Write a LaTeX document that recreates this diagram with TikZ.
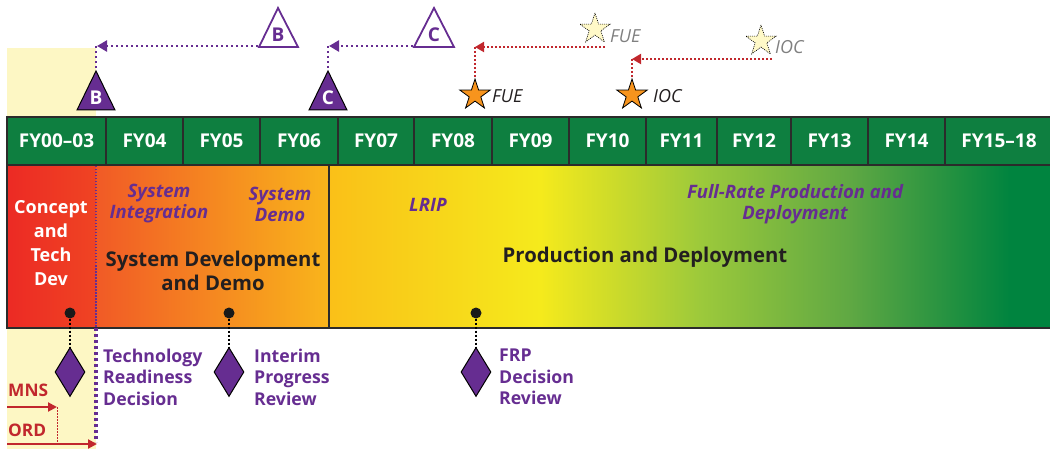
\documentclass[tikz,border=0pt]{standalone}
\usepackage{fontspec}
\setmainfont{Open Sans}
\usetikzlibrary{shapes.geometric,arrows.meta}
\definecolor{fygreen}{HTML}{0E7F40}
\definecolor{dpurple}{HTML}{662D91}
\definecolor{dred}{HTML}{C1272D}
\definecolor{paleyel}{HTML}{FDF7C4}
\definecolor{bordc}{HTML}{2B2B2B}
\definecolor{txtblack}{HTML}{231F20}
\definecolor{staror}{HTML}{F7941D}
\definecolor{starpale}{HTML}{FFF9C8}
\definecolor{rA}{HTML}{EC2A24}
\definecolor{rB}{HTML}{EF4423}
\definecolor{oA}{HTML}{F15A26}
\definecolor{oB}{HTML}{F9B51B}
\definecolor{pA}{HTML}{FAC018}
\definecolor{pB}{HTML}{F5EA1C}
\definecolor{pC}{HTML}{9CC93B}
\definecolor{pD}{HTML}{5FA843}
\definecolor{pE}{HTML}{00843F}
\pgfdeclarehorizontalshading{redshade}{100bp}{color(0bp)=(rA); color(25bp)=(rA); color(75bp)=(rB); color(100bp)=(rB)}
\pgfdeclarehorizontalshading{orshade}{100bp}{color(0bp)=(oA); color(25bp)=(oA); color(75bp)=(oB); color(100bp)=(oB)}
\pgfdeclarehorizontalshading{prodshade}{100bp}{color(0bp)=(pA); color(25bp)=(pA); color(39.6bp)=(pB); color(50.7bp)=(pC); color(61bp)=(pD); color(72bp)=(pE); color(100bp)=(pE)}
\tikzset{
  fycell/.style={rectangle, draw=bordc, line width=1.5pt, fill=fygreen, text=white,
    font=\bfseries\fontsize{19}{20}\selectfont, minimum height=48pt, inner sep=0pt},
  whitelab/.style={text=white, font=\bfseries\fontsize{18}{24}\selectfont, align=center, inner sep=0pt},
  phaseital/.style={text=dpurple, font=\bfseries\itshape\fontsize{18.5}{21}\selectfont, align=center, inner sep=0pt},
  phasebig/.style={text=txtblack, font=\bfseries\fontsize{20.3}{24}\selectfont, align=center, inner sep=0pt},
  revlab/.style={text=dpurple, font=\bfseries\fontsize{17.7}{21.5}\selectfont, align=left, anchor=west, inner sep=0pt},
  redlab/.style={text=dred, font=\bfseries\fontsize{17.3}{18}\selectfont, anchor=west, inner sep=0pt},
  mslab/.style={text=txtblack, font=\itshape\fontsize{18}{18}\selectfont, anchor=west, inner sep=0pt},
  palelab/.style={text=black!50, font=\itshape\fontsize{18}{18}\selectfont, anchor=west, inner sep=0pt},
  orstar/.style={star, star points=5, star point ratio=2.618, minimum size=32pt, inner sep=0pt,
    fill=staror, draw=black, line width=0.8pt},
  palestar/.style={star, star points=5, star point ratio=2.618, minimum size=32pt, inner sep=0pt,
    fill=starpale, draw=black, line width=0.6pt, dash pattern=on 1pt off 1pt},
  revdia/.style={diamond, fill=dpurple, draw=black, line width=1pt, minimum width=30pt,
    minimum height=49pt, inner sep=0pt},
  blackdot/.style={circle, fill=black!90, inner sep=0pt, minimum size=11pt},
  dotlink/.style={black, line width=1.2pt, dash pattern=on 2pt off 2pt},
  purpdot/.style={dpurple, line width=2.5pt, dash pattern=on 2.5pt off 2.5pt},
  reddot/.style={dred, line width=2pt, dash pattern=on 2pt off 2pt},
  purptip/.style={-{Triangle[length=10pt,width=11pt]}},
  trilet/.style={font=\bfseries\fontsize{19}{20}\selectfont, inner sep=0pt},
}
\begin{document}
\begin{tikzpicture}[x=1pt,y=-1pt]
\useasboundingbox (0,0) rectangle (1050,449);
% pale background of the first period
\fill[paleyel] (7,48) rectangle (96,449);
% phase band
\shade[shading=redshade] (7,165) rectangle (96,328);
\shade[shading=orshade] (96,165) rectangle (329,328);
\shade[shading=prodshade] (329,165) rectangle (1053,328);
\draw[bordc, line width=1.5pt] (7,165) rectangle (1053,328);
\draw[bordc, line width=1.5pt] (329,165) -- (329,328);
% fiscal year cells
\foreach \l/\r/\t [count=\i] in {7/106/FY00--03, 106/183/FY04, 183/260/FY05, 260/338/FY06,
   338/414/FY07, 414/492/FY08, 492/569/FY09, 569/646/FY10, 646/717/FY11, 717/791/FY12,
   791/868/FY13, 868/945/FY14, 945/1053/FY15--18}
  \node[fycell, minimum width={\r pt-\l pt}] (fy\i) at ({(\l+\r)/2},141) {\t};
% Milestone B / C decision line
\draw[dpurple, line width=2pt, dash pattern=on 1.5pt off 1.5pt] (96,166) -- (96,328);
\draw[dpurple, line width=3.5pt, dash pattern=on 3pt off 3pt] (96,328) -- (96,442);
% phase texts
\node[whitelab] (ctd) at (51,243) {Concept\\and\\Tech\\Dev};
\node[phaseital] (si) at (159,204) {System\\Integration};
\node[phaseital] (sd) at (280,204) {System\\Demo};
\node[phasebig] (sdd) at (213,271) {System Development\\and Demo};
\node[phaseital] (lrip) at (428,205) {LRIP};
\node[phasebig] (pd) at (645,257) {Production and Deployment};
\node[phaseital] (frp) at (795,204) {Full-Rate Production and\\Deployment};
% reviews
\node[blackdot] (k1) at (70,313) {};
\node[blackdot] (k2) at (229,313) {};
\node[blackdot] (k3) at (476,313) {};
\node[revdia] (d1) at (70,372) {};
\node[revdia] (d2) at (229,372) {};
\node[revdia] (d3) at (476,372) {};
\draw[dotlink] (k1) -- (d1.north);
\draw[dotlink] (k2) -- (d2.north);
\draw[dotlink] (k3) -- (d3.north);
\node[revlab] (trd) at (103,377) {Technology\\Readiness\\Decision};
\node[revlab] (ipr) at (254,377) {Interim\\Progress\\Review};
\node[revlab] (frpd) at (499,377) {FRP\\Decision\\Review};
% MNS / ORD
\node[redlab] (mns) at (8,390) {MNS};
\node[redlab] (ord) at (8,430) {ORD};
\coordinate (mnsS) at (7,407);
\coordinate (mnsE) at (57,407);
\coordinate (mnsB) at (57,444);
\coordinate (ordS) at (7,444);
\coordinate (ordE) at (97,444);
\draw[dred, line width=2pt, -{Triangle[length=9pt,width=9pt]}] (mnsS) -- (mnsE);
\draw[dred, line width=1pt, dash pattern=on 1.5pt off 1.5pt] (mnsE) -- (mnsB);
\draw[dred, line width=2pt, -{Triangle[length=9pt,width=9pt]}] (ordS) -- (ordE);
% milestone triangles (current)
\filldraw[fill=dpurple, draw=black, line width=1pt] (77,110) -- (96,71) -- (115,110) -- cycle;
\node[trilet, text=white] (Bf) at (96,98) {B};
\filldraw[fill=dpurple, draw=black, line width=1pt] (309,110) -- (328,71) -- (347,110) -- cycle;
\node[trilet, text=white] (Cf) at (328,98) {C};
% milestone triangles (planned)
\draw[dpurple, line width=1.8pt, line join=miter] (259,47) -- (278,8) -- (298,47) -- cycle;
\node[trilet, text=dpurple] (Bo) at (278,35) {B};
\draw[dpurple, line width=1.8pt, line join=miter] (414,47) -- (434,8) -- (454,47) -- cycle;
\node[trilet, text=dpurple] (Co) at (434,35) {C};
\coordinate (BoL) at (258,46);
\coordinate (BcT) at (96,46);
\coordinate (BfT) at (96,71);
\coordinate (CoL) at (413,46);
\coordinate (CcT) at (328,46);
\coordinate (CfT) at (328,71);
\draw[purpdot, purptip] (BoL) -- ([xshift=1pt]BcT);
\draw[purpdot] (BcT) -- (BfT);
\draw[purpdot, purptip] (CoL) -- ([xshift=1pt]CcT);
\draw[purpdot] (CcT) -- (CfT);
% stars
\node[orstar] (sFUE) at (475,95) {};
\node[mslab] (lFUE) at (492,96) {FUE};
\node[orstar] (sIOC) at (632,95) {};
\node[mslab] (lIOC) at (653,96) {IOC};
\node[palestar] (pFUE) at (595,29) {};
\node[palelab] (plFUE) at (610,36) {FUE};
\node[palestar] (pIOC) at (761,41) {};
\node[palelab] (plIOC) at (775,47) {IOC};
\coordinate (fueS) at (605,47);
\coordinate (fueC) at (475,47);
\coordinate (iocS) at (772,59);
\coordinate (iocC) at (632,59);
\draw[reddot, -{Triangle[length=9pt,width=10pt]}] (fueS) -- (fueC);
\draw[reddot] (fueC) -- (sFUE.north);
\draw[reddot, -{Triangle[length=9pt,width=10pt]}] (iocS) -- (iocC);
\draw[reddot] (iocC) -- (sIOC.north);
\end{tikzpicture}
\end{document}
